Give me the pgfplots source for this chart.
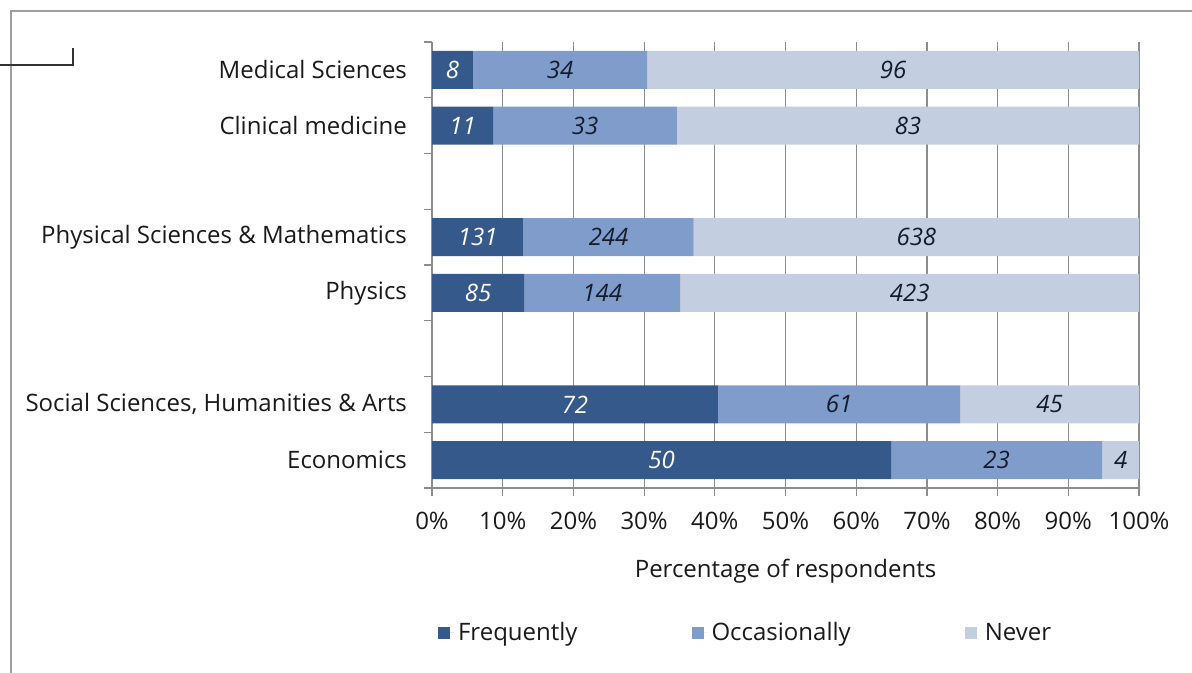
\documentclass[border=0pt]{standalone}
\usepackage{pgfplots}
\pgfplotsset{compat=1.18}
\usepackage{pgfplotstable}
\usepackage{fontspec}
\setmainfont{Open Sans}
\definecolor{cF}{HTML}{35598A}
\definecolor{cO}{HTML}{809CCB}
\definecolor{cN}{HTML}{C4CEE1}
\definecolor{gridc}{HTML}{8C8C8C}
\definecolor{txt}{HTML}{1A1A1A}
\definecolor{lbl}{HTML}{141C2C}
\newcommand{\fs}{\fontsize{12}{14}\selectfont}
\pgfplotstableread{
pos F O N
7 8 34 96
6 11 33 83
4 131 244 638
3 85 144 423
1 72 61 45
0 50 23 4
}\data
\begin{document}
\begin{tikzpicture}
\path[use as bounding box] (0,0) rectangle (596pt,-336.5pt);
\draw[color=gray!75, line width=0.7pt] (5.5pt,-336.5pt) -- (5.5pt,-5.5pt) -- (596pt,-5.5pt);
\draw[color=gray!40!black, line width=0.8pt] (0pt,-32.5pt) -- (36.5pt,-32.5pt) -- (36.5pt,-24pt);
\begin{axis}[
  at={(216pt,-244pt)}, anchor=south west,
  scale only axis, width=353.5pt, height=223pt,
  xbar stacked, bar width=19pt,
  xmin=0, xmax=100, ymin=-0.5, ymax=7.5,
  axis x line*=bottom, axis y line*=left,
  axis line style={gridc, line width=0.6pt},
  tick align=outside, major tick length=4pt,
  tick style={gridc, line width=0.6pt},
  xtick={0,10,...,100},
  xticklabels={0\%,10\%,20\%,30\%,40\%,50\%,60\%,70\%,80\%,90\%,100\%},
  xticklabel style={yshift=-4.5pt},
  xmajorgrids, grid style={gridc, line width=0.6pt},
  ytick={-0.5,0.5,...,7.5}, yticklabel={\relax},
  extra y ticks={0,1,3,4,6,7},
  extra y tick labels={Economics,{Social Sciences, Humanities \& Arts},Physics,{Physical Sciences \& Mathematics},Clinical medicine,Medical Sciences},
  extra y tick style={major tick length=0pt, yticklabel style={xshift=-9pt}},
  ticklabel style={font=\fs, text=txt},
  /pgf/number format/assume math mode=true,
  xlabel={Percentage of respondents},
  xlabel style={font=\fs, text=txt, yshift=-8pt},
  legend columns=3,
  legend style={at={(0.445,-0.325)}, anchor=center, draw=none, font=\fs, text=txt,
    /tikz/every even column/.append style={column sep=55pt}},
  legend image code/.code={\fill[#1] (0pt,-3pt) rectangle (6pt,3pt); \path (0pt,0pt) -- (8pt,0pt);},
  nodes near coords, point meta=explicit symbolic,
]
\addplot[fill=cF, draw=none, every node near coord/.append style={anchor=center, font=\fs\itshape, text=white}]
  table[y=pos, meta=F, x expr={100*\thisrow{F}/(\thisrow{F}+\thisrow{O}+\thisrow{N})}] {\data};
\addplot[fill=cO, draw=none, every node near coord/.append style={anchor=center, font=\fs\itshape, text=lbl}]
  table[y=pos, meta=O, x expr={100*\thisrow{O}/(\thisrow{F}+\thisrow{O}+\thisrow{N})}] {\data};
\addplot[fill=cN, draw=none, every node near coord/.append style={anchor=center, font=\fs\itshape, text=lbl}]
  table[y=pos, meta=N, x expr={100*\thisrow{N}/(\thisrow{F}+\thisrow{O}+\thisrow{N})}] {\data};
\legend{Frequently, Occasionally, Never}
\end{axis}
\end{tikzpicture}
\end{document}
